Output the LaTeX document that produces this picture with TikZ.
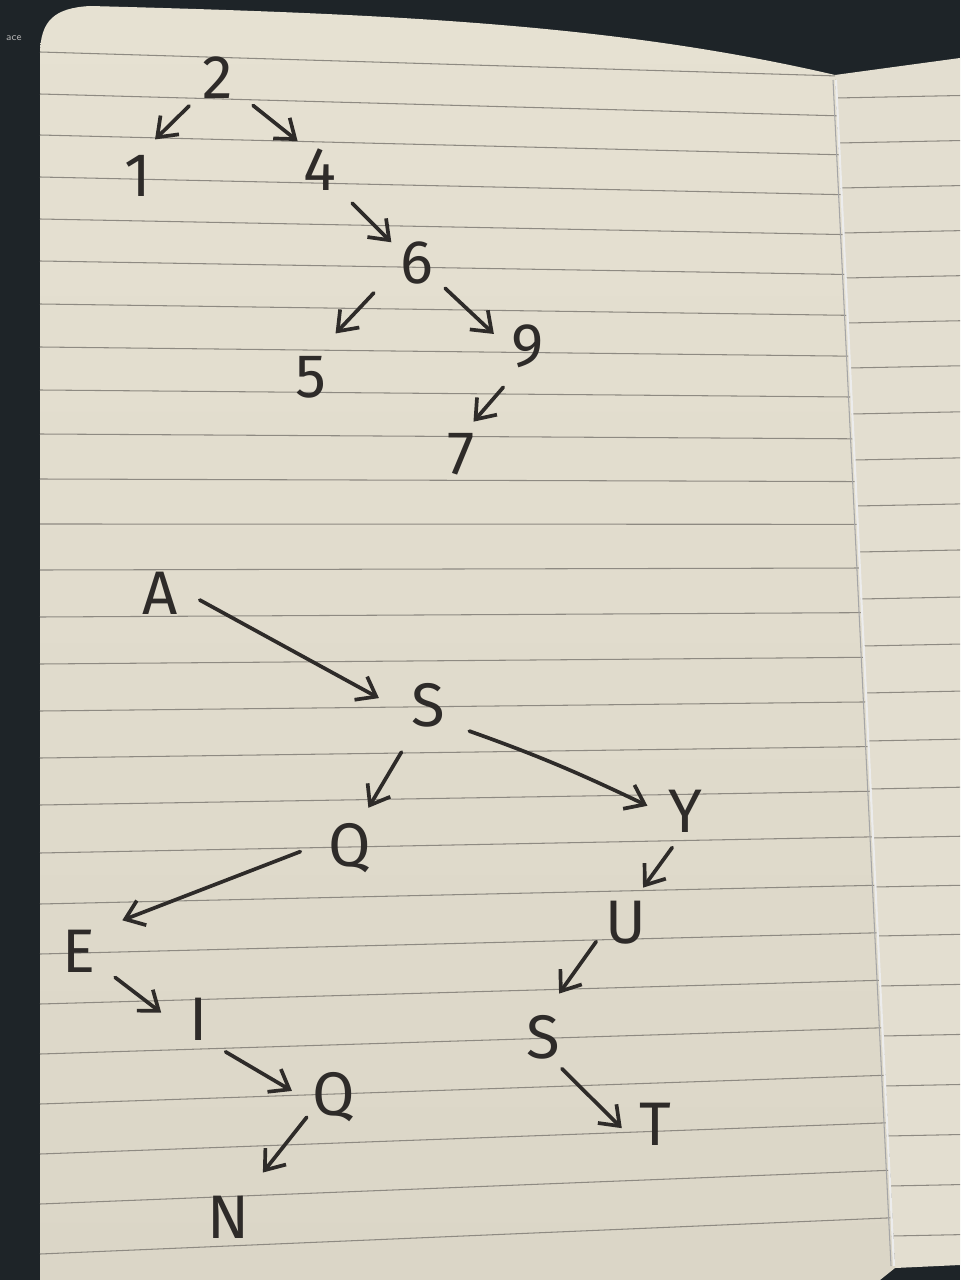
\documentclass[tikz,border=0pt]{standalone}
\usepackage{fontspec}
\newfontfamily\hand{Fira Sans}
\usetikzlibrary{arrows.meta}
\definecolor{ink}{HTML}{2E2B29}
\definecolor{paperT}{HTML}{E6E1D2}
\definecolor{paperB}{HTML}{DBD6C7}
\definecolor{paperR}{HTML}{E3DED0}
\definecolor{rulec}{HTML}{8E8A82}
\definecolor{bgc}{HTML}{1E2428}
\begin{document}
\begin{tikzpicture}[x=0.02cm,y=-0.02cm,
  lbl/.style={circle,minimum size=1.6cm,inner sep=0pt,text=ink,font=\hand\fontsize{35}{40}\selectfont},
  edge/.style={draw=ink,line width=2.1pt,line cap=round,-{Straight Barb[length=10pt,width=15pt]}},
  ruled/.style={draw=rulec,line width=0.6pt}]
\useasboundingbox (0,0) rectangle (960,1280);
% background and paper
\fill[bgc] (0,0) rectangle (960,1280);
\node[text=gray!60,font=\sffamily\fontsize{6}{7}\selectfont,anchor=west] (keytxt) at (0,38) {ace};
\fill[paperR] (835,75) -- (960,58) -- (960,1265) -- (895,1268) -- cycle;
\shade[top color=paperT,bottom color=paperB] (40,1280) -- (40,55) .. controls (40,20) and (55,8) .. (90,6)
  .. controls (400,14) and (620,25) .. (835,75) -- (895,1268) -- (880,1280) -- cycle;
% ruled lines, left page
\foreach \yy in {52,94,135,177,219,261,304,347,390,434,479,524,570,617,664,711,758,805,853,904,954,1004,1054,1104,1154,1204,1254}{
  \pgfmathsetmacro\yr{\yy+(0.03-0.075*(\yy-50)/1200)*800}
  \pgfmathsetmacro\xf{835+(\yr-75)/1190*58}
  \draw[ruled] (40,\yy) -- (\xf,\yr);
}
% ruled lines, right page
\foreach \yy in {98,143,188,233,278,323,368,414,460,506,552,599,646,693,741,789,838,887,936,986,1036,1086,1136,1186,1236}{
  \pgfmathsetmacro\xf{835+(\yy-75)/1190*58}
  \pgfmathsetmacro\yr{\yy-0.02*(960-\xf)}
  \draw[ruled] (\xf,\yy) -- (960,\yr);
}
% fold
\draw[line width=1.2pt,draw=white!85!gray] (836,80) -- (894,1266);
\draw[line width=0.6pt,draw=gray!70] (833,80) -- (891,1266);
% top tree
\node[lbl] (n2) at (218,78) {2};
\node[lbl] (n1) at (138,176) {1};
\node[lbl] (n4) at (320,170) {4};
\node[lbl] (n6) at (417,263) {6};
\node[lbl] (n5) at (311,377) {5};
\node[lbl] (n9) at (528,346) {9};
\node[lbl] (n7) at (461,454) {7};
\draw[edge] (n2.-136) -- (n1.65);
\draw[edge,shorten <=0.084cm,shorten >=-0.076cm] (n2.-38) -- (n4.129);
\draw[edge,shorten <=0.12cm,shorten >=-0.148cm] (n4.-46) -- (n6.140);
\draw[edge,shorten <=0.25cm,shorten >=0.2cm] (n6.-149) -- (n5.64);
\draw[edge,shorten <=-0.05cm,shorten >=-0.09cm] (n6.-42) -- (n9.158);
\draw[edge,shorten <=0.158cm,shorten >=-0.12cm] (n9.-119) -- (n7.66);
% bottom tree
\node[lbl] (nA) at (160,593) {A};
\node[lbl] (nS) at (428,705) {S};
\node[lbl] (nQ) at (350,848) {Q};
\node[lbl] (nY) at (685,811) {Y};
\node[lbl] (nE) at (79,951) {E};
\node[lbl] (nI) at (199,1019) {I};
\node[lbl] (nQb) at (334,1097) {Q};
\node[lbl] (nN) at (228,1217) {N};
\node[lbl] (nU) at (626,923) {U};
\node[lbl] (nSb) at (543,1037) {S};
\node[lbl] (nT) at (655,1124) {T};
\draw[edge,shorten >=0.2cm] (nA.-10) -- (nS.177);
\draw[edge,shorten <=0.274cm,shorten >=0.078cm] (nS.-119) -- (nQ.66);
\draw[edge,shorten <=0.176cm,shorten >=-0.05cm] (nS.-35) to[bend left=3] (nY.171);
\draw[edge,shorten <=0.2cm,shorten >=0.266cm] (nQ.180) -- (nE.40);
\draw[edge,shorten <=0.088cm,shorten >=-0.046cm] (nE.-36) -- (nI.169);
\draw[edge,shorten <=0.04cm,shorten >=0.046cm] (nI.-52) -- (nQb.173);
\draw[edge,shorten <=-0.132cm,shorten >=0.324cm] (nQb.-141) -- (nN.52);
\draw[edge,shorten <=-0.034cm,shorten >=-0.022cm] (nY.-110) -- (nU.64);
\draw[edge,shorten <=-0.112cm,shorten >=0.124cm] (nU.-145) -- (nSb.72);
\draw[edge,shorten <=-0.072cm,shorten >=-0.198cm] (nSb.-58) -- (nT.176);
\end{tikzpicture}
\end{document}
